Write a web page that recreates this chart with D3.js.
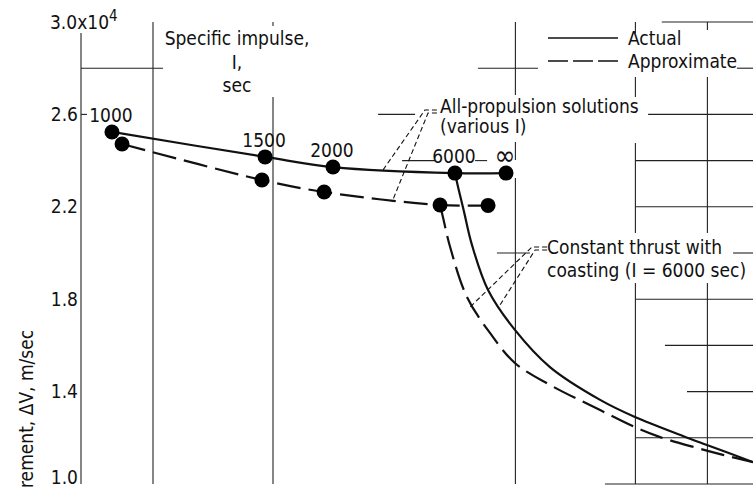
<!DOCTYPE html>
<html>
<head>
<meta charset="utf-8">
<script src="https://cdn.jsdelivr.net/npm/d3@7"></script>
<style>
  body { margin: 0; background: #fff; }
  svg text { font-family: "Liberation Sans Narrow", "DejaVu Sans Condensed", sans-serif; fill: #111; }
</style>
</head>
<body>
<script>
// all-propulsion solutions, one point per specific impulse
const impulse = ['1000', '1500', '2000', '6000', '\u221e']
const actualX = [1.29, 7.67, 10.5, 15.58, 17.71]
const actualDV = [2.524, 2.416, 2.372, 2.346, 2.346]
const approxX = [1.71, 7.54, 10.13, 14.96, 16.96]
const approxDV = [2.472, 2.316, 2.264, 2.208, 2.206]

// constant thrust with coasting (I = 6000 sec)
const coastActualX = [15.58, 15.71, 15.96, 16.29, 16.96, 18.08, 19.54, 21.63, 23.08, 25.08, 26.08, 28.0]
const coastActualDV = [2.346, 2.286, 2.178, 2.035, 1.84, 1.667, 1.506, 1.364, 1.29, 1.208, 1.169, 1.095]
const coastApproxX = [14.96, 15.08, 15.38, 16.08, 17.04, 18.08, 19.54, 21.63, 23.17, 24.13, 25.67, 26.75, 28.0]
const coastApproxDV = [2.208, 2.156, 2.026, 1.81, 1.654, 1.524, 1.429, 1.32, 1.242, 1.203, 1.156, 1.126, 1.095]

const yTicks = [1.0, 1.4, 1.8, 2.2, 2.6, 3.0]

// pieces of grid that survive in the scan
const gridV = [
    {x: 0, runs: [[1.0, 2.952]]},
    {x: 3, runs: [[1.0, 3.0]]},
    {x: 8, runs: [[1.0, 2.675], [2.983, 3.0]]},
    {x: 18.1, runs: [[1.0, 2.325], [2.403, 2.481], [2.684, 3.0]]},
    {x: 23.1, runs: [[1.0, 1.87], [2.087, 2.476], [2.675, 2.762], [2.952, 3.0]]},
    {x: 26.1, runs: [[1.0, 1.87], [2.087, 2.762], [2.965, 3.0]]}
]
const gridH = [
    {y: 3.0, runs: [[24.2, 28]]},
    {y: 2.8, runs: [[0, 3.42], [16.54, 19.04], [27.33, 28]]},
    {y: 2.6, runs: [[0, 0.25], [12.38, 13.92], [23.63, 28]]},
    {y: 2.4, runs: [[13.38, 14.75], [16.42, 16.92], [23.1, 28]]},
    {y: 2.2, runs: [[23.1, 28]]},
    {y: 2.0, runs: [[17.33, 18.71], [27.17, 28]]},
    {y: 1.8, runs: [[23.1, 28]]},
    {y: 1.6, runs: [[24.33, 28]]},
    {y: 1.4, runs: [[25.25, 28]]},
    {y: 1.2, runs: [[23.1, 28]]},
    {y: 1.0, runs: [[21.83, 28]]}
]

// leader lines from the notes to the curves
const propLeaders = [
    [[14.83, 2.619], [14.33, 2.619], [12.58, 2.359]],
    [[14.83, 2.606], [14.46, 2.606], [12.96, 2.221]]
]
const coastLeaders = [
    [[19.42, 2.026], [18.79, 2.026], [16.21, 1.766]],
    [[19.42, 2.013], [18.92, 2.013], [17.46, 1.775]]
]

const w = 753
const h = 490

const svg = d3.select('body')
    .append('svg')
    .attr('width', w)
    .attr('height', h)

const x = d3.scaleLinear().domain([0, 28]).range([81, 753])
const y = d3.scaleLinear().domain([1.0, 3.0]).range([484, 22])

const grid = svg.append('g')
    .attr('stroke', '#222')
    .attr('stroke-width', 1.1)

gridV.forEach(g => {
    g.runs.forEach(r => {
        grid.append('line')
            .attr('x1', x(g.x)).attr('x2', x(g.x))
            .attr('y1', y(r[0])).attr('y2', y(r[1]))
    })
})
gridH.forEach(g => {
    g.runs.forEach(r => {
        grid.append('line')
            .attr('x1', x(r[0])).attr('x2', x(r[1]))
            .attr('y1', y(g.y)).attr('y2', y(g.y))
    })
})

const yAxis = d3.axisLeft(y)
    .tickValues(yTicks)
    .tickSize(0)
    .tickPadding(3)
    .tickFormat(d3.format('.1f'))

const ya = svg.append('g')
    .attr('transform', 'translate(' + x(0) + ',0)')
    .call(yAxis)
ya.select('.domain').remove()
ya.selectAll('text')
    .attr('font-size', 19)
    .attr('fill', '#111')
    .attr('font-family', null)
ya.selectAll('.tick')
    .filter(d => d === 1.0)
    .select('text')
    .attr('dy', '-0.05em')
const topLabel = ya.selectAll('.tick').filter(d => d === 3.0).select('text')
topLabel.text('3.0x10')
    .attr('text-anchor', 'start')
    .attr('x', -31)
topLabel.append('tspan')
    .attr('dy', -8)
    .attr('font-size', 15)
    .text('4')

svg.append('text')
    .attr('transform', 'translate(33,488) rotate(-90)')
    .attr('font-size', 19)
    .text('rement, \u0394V, m/sec')

const line = d3.line()
    .x(d => x(d[0]))
    .y(d => y(d[1]))
    .curve(d3.curveCatmullRom.alpha(0.5))

const curves = [
    {xs: actualX, ys: actualDV, dash: null},
    {xs: approxX, ys: approxDV, dash: '24,8'},
    {xs: coastActualX, ys: coastActualDV, dash: null},
    {xs: coastApproxX, ys: coastApproxDV, dash: '24,8'}
]
curves.forEach(c => {
    svg.append('path')
        .datum(d3.zip(c.xs, c.ys))
        .attr('d', line)
        .attr('fill', 'none')
        .attr('stroke', '#111')
        .attr('stroke-width', 2.2)
        .attr('stroke-dasharray', c.dash)
})

const leader = d3.line().x(d => x(d[0])).y(d => y(d[1]))
propLeaders.concat(coastLeaders).forEach(l => {
    svg.append('path')
        .attr('d', leader(l))
        .attr('fill', 'none')
        .attr('stroke', '#111')
        .attr('stroke-width', 1.1)
        .attr('stroke-dasharray', '5,3')
})

svg.selectAll('circle.actual')
    .data(d3.zip(actualX, actualDV))
    .enter()
    .append('circle')
    .attr('class', 'actual')
    .attr('cx', d => x(d[0]))
    .attr('cy', d => y(d[1]))
    .attr('r', 7.5)
    .attr('fill', '#000')

svg.selectAll('circle.approx')
    .data(d3.zip(approxX, approxDV))
    .enter()
    .append('circle')
    .attr('class', 'approx')
    .attr('cx', d => x(d[0]))
    .attr('cy', d => y(d[1]))
    .attr('r', 7.5)
    .attr('fill', '#000')

svg.selectAll('text.imp')
    .data(impulse)
    .enter()
    .append('text')
    .attr('class', 'imp')
    .attr('x', (d, i) => x(actualX[i]) - 1)
    .attr('y', (d, i) => y(actualDV[i]) - (d === '\u221e' ? 8 : 10))
    .attr('text-anchor', 'middle')
    .attr('font-size', d => d === '\u221e' ? 28 : 19)
    .text(d => d)

const note = (tx, ty, lines, anchor) => {
    const t = svg.append('text')
        .attr('font-size', 19)
        .attr('text-anchor', anchor || 'start')
    lines.forEach((s, i) => {
        t.append('tspan')
            .attr('x', tx)
            .attr('y', ty[i])
            .text(s)
    })
}
note(237, [45, 69, 92], ['Specific impulse,', 'I,', 'sec'], 'middle')
note(440, [113, 133], ['All-propulsion solutions', '(various I)'])
note(547, [254, 277], ['Constant thrust with', 'coasting (I = 6000 sec)'])

// legend
const legend = [
    {label: 'Actual', dash: null, ly: 38},
    {label: 'Approximate', dash: '20,5', ly: 61}
]
legend.forEach(l => {
    svg.append('line')
        .attr('x1', 548).attr('x2', 618)
        .attr('y1', l.ly).attr('y2', l.ly)
        .attr('stroke', '#111')
        .attr('stroke-width', 1.6)
        .attr('stroke-dasharray', l.dash)
    svg.append('text')
        .attr('x', 628)
        .attr('y', l.ly + 7)
        .attr('font-size', 19)
        .text(l.label)
})
</script>
</body>
</html>
